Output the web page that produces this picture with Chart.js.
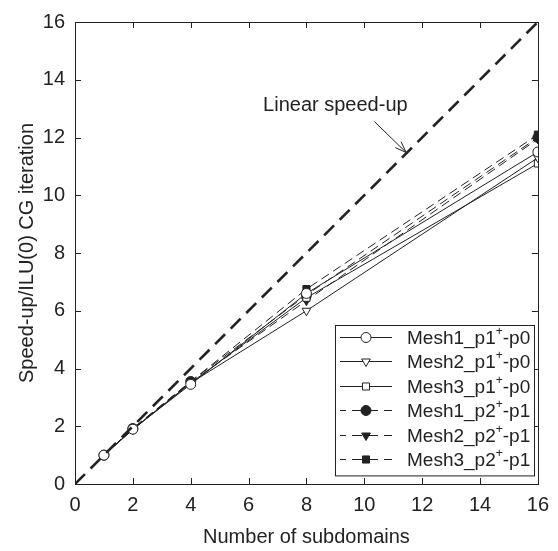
<!DOCTYPE html>
<html lang="en">
<head>
  <meta charset="UTF-8" />
  <title>Speed-up vs number of subdomains</title>
  <script src="https://cdn.jsdelivr.net/npm/chart.js"></script>
  <style>
    html, body { margin: 0; padding: 0; background: #fff; }
    .wrap { width: 558px; height: 551px; }
  </style>
</head>
<body>
  <div class="wrap"><canvas id="speedup"></canvas></div>

  <script>
    // data
    const subdomains = [1, 2, 4, 8, 16];
    const mesh1P1 = [1.0, 1.90, 3.45, 6.60, 11.50];
    const mesh2P1 = [1.0, 1.88, 3.50, 6.00, 11.30];
    const mesh3P1 = [1.0, 1.90, 3.50, 6.45, 11.10];
    const mesh1P2 = [1.0, 1.92, 3.55, 6.55, 12.00];
    const mesh2P2 = [1.0, 1.90, 3.52, 6.35, 11.95];
    const mesh3P2 = [1.0, 1.93, 3.55, 6.75, 12.10];
    const linearX = [0, 16];
    const linearY = [0, 16];
    const tickValues = [0, 2, 4, 6, 8, 10, 12, 14, 16];

    const FONT = "'Liberation Sans', Arial, sans-serif";
    const INK = "#222";

    const pts = (xs, ys) => xs.map((x, i) => ({ x: x, y: ys[i] }));

    function series(label, ys, style, filled, dashed, rot) {
      return {
        label: label,
        data: pts(subdomains, ys),
        borderColor: INK,
        borderWidth: 1,
        borderDash: dashed ? [9, 5] : [],
        pointStyle: style,
        pointRotation: rot || 0,
        pointRadius: 5,
        pointBorderWidth: 1,
        pointBorderColor: INK,
        pointBackgroundColor: filled ? INK : "#fff",
        showLine: true,
        fill: false,
        tension: 0
      };
    }

    const datasets = [
      {
        label: "Linear speed-up",
        data: pts(linearX, linearY),
        borderColor: INK,
        borderWidth: 2.6,
        borderDash: [14, 8],
        pointRadius: 0,
        showLine: true,
        fill: false
      },
      series("Mesh1_p1+-p0", mesh1P1, "circle", false, false),
      series("Mesh2_p1+-p0", mesh2P1, "triangle", false, false, 180),
      series("Mesh3_p1+-p0", mesh3P1, "rect", false, false),
      series("Mesh1_p2+-p1", mesh1P2, "circle", true, true),
      series("Mesh2_p2+-p1", mesh2P2, "triangle", true, true, 180),
      series("Mesh3_p2+-p1", mesh3P2, "rect", true, true)
    ];

    // box, inward ticks, legend and the arrow note
    const decor = {
      id: "decor",
      afterDraw(chart) {
        const ctx = chart.ctx;
        const a = chart.chartArea;
        const xs = chart.scales.x, ys = chart.scales.y;
        ctx.save();
        ctx.strokeStyle = INK;
        ctx.lineWidth = 1;
        ctx.setLineDash([]);
        ctx.strokeRect(Math.round(a.left) + 0.5, Math.round(a.top) + 0.5,
          Math.round(a.right - a.left), Math.round(a.bottom - a.top));
        const tl = 6;
        ctx.beginPath();
        tickValues.forEach(v => {
          const px = Math.round(xs.getPixelForValue(v)) + 0.5;
          ctx.moveTo(px, a.bottom); ctx.lineTo(px, a.bottom - tl);
          ctx.moveTo(px, a.top); ctx.lineTo(px, a.top + tl);
          const py = Math.round(ys.getPixelForValue(v)) + 0.5;
          ctx.moveTo(a.left, py); ctx.lineTo(a.left + tl, py);
          ctx.moveTo(a.right, py); ctx.lineTo(a.right - tl, py);
        });
        ctx.stroke();

        // annotation
        ctx.font = "20px " + FONT;
        ctx.fillStyle = INK;
        ctx.textAlign = "center";
        ctx.textBaseline = "middle";
        ctx.fillText("Linear speed-up", xs.getPixelForValue(9.0), ys.getPixelForValue(13.1));
        const x0 = xs.getPixelForValue(10.35), y0 = ys.getPixelForValue(12.55);
        const x1 = xs.getPixelForValue(11.45), y1 = ys.getPixelForValue(11.48);
        ctx.beginPath();
        ctx.moveTo(x0, y0); ctx.lineTo(x1, y1);
        const ang = Math.atan2(y1 - y0, x1 - x0);
        const hl = 12, hw = 0.35;
        ctx.moveTo(x1 - hl * Math.cos(ang - hw), y1 - hl * Math.sin(ang - hw));
        ctx.lineTo(x1, y1);
        ctx.lineTo(x1 - hl * Math.cos(ang + hw), y1 - hl * Math.sin(ang + hw));
        ctx.stroke();

        // legend
        const lx = 335, ly = 325, lw = 199, rowH = 24.4;
        ctx.fillStyle = "#fff";
        ctx.fillRect(lx, ly, lw, rowH * 6 + 4);
        ctx.strokeRect(lx + 0.5, ly + 0.5, lw, rowH * 6 + 4);
        chart.data.datasets.slice(1).forEach((ds, i) => {
          const cy = Math.round(ly + 12 + i * rowH) + 0.5;
          ctx.strokeStyle = INK;
          ctx.lineWidth = 1;
          ctx.setLineDash(ds.borderDash.length ? [10, 6] : []);
          ctx.lineDashOffset = ds.borderDash.length ? 4 : 0;
          ctx.beginPath();
          ctx.moveTo(lx + 5, cy); ctx.lineTo(lx + 57, cy);
          ctx.stroke();
          ctx.setLineDash([]);
          ctx.lineDashOffset = 0;
          ctx.fillStyle = ds.pointBackgroundColor;
          Chart.helpers.drawPoint(ctx, {
            pointStyle: ds.pointStyle, rotation: ds.pointRotation,
            radius: 5, borderWidth: 1
          }, lx + 31, cy);
          ctx.fillStyle = INK;
          ctx.textAlign = "left";
          ctx.textBaseline = "middle";
          ctx.font = "19px " + FONT;
          const parts = ds.label.split("+");
          let tx = lx + 72;
          ctx.fillText(parts[0], tx, cy + 1);
          tx += ctx.measureText(parts[0]).width;
          ctx.font = "12px " + FONT;
          ctx.fillText("+", tx, cy - 6);
          tx += ctx.measureText("+").width;
          ctx.font = "19px " + FONT;
          ctx.fillText(parts[1], tx, cy + 1);
        });
        ctx.restore();
      }
    };

    new Chart(document.getElementById("speedup"), {
      type: "scatter",
      data: { datasets: datasets },
      options: {
        responsive: true,
        maintainAspectRatio: false,
        animation: false,
        layout: { padding: { top: 15, right: 13, left: 0, bottom: 0 } },
        plugins: { legend: { display: false }, tooltip: { enabled: false } },
        scales: {
          x: {
            type: "linear",
            min: 0, max: 16,
            afterFit(s) { s.height = 67; },
            afterBuildTicks(s) { s.ticks = tickValues.map(v => ({ value: v })); },
            grid: { display: false, drawTicks: false },
            border: { display: false },
            ticks: { color: INK, font: { family: FONT, size: 20 }, padding: 9, maxRotation: 0 },
            title: {
              display: true, text: "Number of subdomains", color: INK,
              font: { family: FONT, size: 20 }, padding: { top: 0, bottom: 2 }
            }
          },
          y: {
            min: 0, max: 16,
            afterFit(s) { s.width = 75; },
            afterBuildTicks(s) { s.ticks = tickValues.map(v => ({ value: v })); },
            grid: { display: false, drawTicks: false },
            border: { display: false },
            ticks: { color: INK, font: { family: FONT, size: 20 }, padding: 10 },
            title: {
              display: true, text: "Speed-up/ILU(0) CG iteration", color: INK,
              font: { family: FONT, size: 20 }, padding: { top: 15, bottom: 0 }
            }
          }
        }
      },
      plugins: [decor]
    });
  </script>
</body>
</html>
